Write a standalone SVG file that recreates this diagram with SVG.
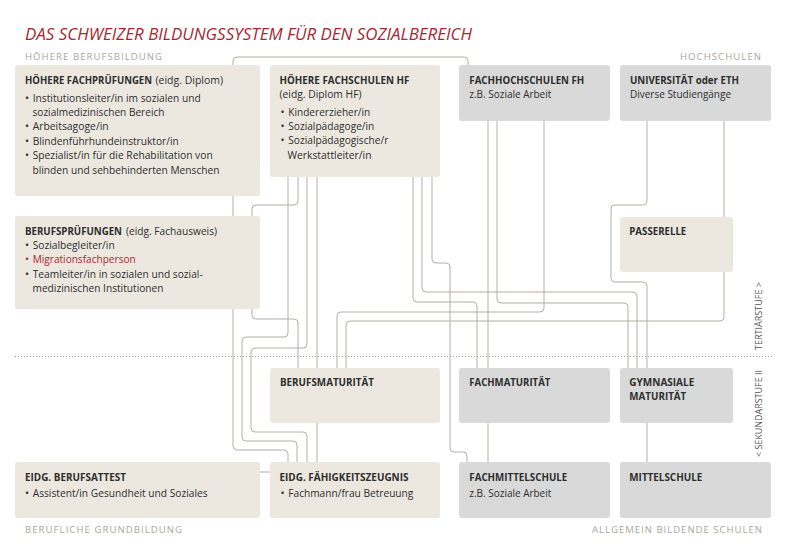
<svg xmlns="http://www.w3.org/2000/svg" width="789" height="560" viewBox="0 0 789 560">
<style>
text{font-family:"Open Sans","Noto Sans","Liberation Sans",sans-serif;fill:#2e2e2e;font-size:10.8px}
.b{font-weight:700}
.red{fill:#a8262f}
.title{font-style:italic;font-size:16.8px;fill:#a8262f}
.lbl{font-size:9.6px;fill:#aaa69d}
.side{font-size:9.4px;fill:#555}
.beige{fill:#ece8e0}
.gray{fill:#d9d9d9}
.conn path{fill:none;stroke:#b3afa6;stroke-width:1}
.dot{stroke:#9a9a9a;stroke-width:1;stroke-dasharray:1 2;fill:none}
</style>
<rect width="789" height="560" fill="#ffffff"/>
<text class="title" x="25" y="40" textLength="447" lengthAdjust="spacingAndGlyphs">DAS SCHWEIZER BILDUNGSSYSTEM FÜR DEN SOZIALBEREICH</text>
<text class="lbl" x="25" y="60" textLength="137" lengthAdjust="spacing">HÖHERE BERUFSBILDUNG</text>
<text class="lbl" x="761" y="59.5" text-anchor="end" textLength="81" lengthAdjust="spacing">HOCHSCHULEN</text>
<text class="lbl" x="25" y="532.5" textLength="157" lengthAdjust="spacing">BERUFLICHE GRUNDBILDUNG</text>
<text class="lbl" x="762" y="532.5" text-anchor="end" textLength="170" lengthAdjust="spacing">ALLGEMEIN BILDENDE SCHULEN</text>
<line class="dot" x1="15" y1="356.5" x2="772" y2="356.5"/>
<text class="side" transform="translate(762,316) rotate(-90)" text-anchor="middle" textLength="68" lengthAdjust="spacingAndGlyphs">TERTIÄRSTUFE &gt;</text>
<text class="side" transform="translate(762,413.5) rotate(-90)" text-anchor="middle" textLength="87" lengthAdjust="spacingAndGlyphs">&lt; SEKUNDARSTUFE II</text>

<g id="connectors" class="conn">
<path d="M468,65 V61 Q468,57 464,57 H237 Q233,57 233,61 V446 Q233,450 237,450 H284 Q288,450 288,454 V462"/>
<path d="M288,177 V333 Q288,337 284,337 H246 Q242,337 242,341 V437 Q242,441 246,441 H293 Q297,441 297,445 V462"/>
<path d="M307,177 V344 Q307,348 303,348 H255 Q251,348 251,352 V428 Q251,432 255,432 H303 Q307,432 307,436 V462"/>
<path d="M317,177 V462"/>
<path d="M298,177 V201 Q298,205 294,205 H256 Q252,205 252,209 V216"/>
<path d="M252,309 V315 Q252,319 256,319 H294 Q298,319 298,323 V368"/>
<path d="M544,121 V308 Q544,312 540,312 H341 Q337,312 337,316 V368"/>
<path d="M724,121 V317 Q724,321 720,321 H350 Q346,321 346,325 V368"/>
<path d="M432,177 V259 Q432,263 436,263 H446 Q450,263 450,267 V448 Q450,452 454,452 H463 Q467,452 467,456 V462"/>
<path d="M422,177 V288 Q422,292 426,292 H633 Q637,292 637,296 V368"/>
<path d="M413,177 V298 Q413,302 417,302 H473 Q477,302 477,306 V368"/>
<path d="M497,121 V299 Q497,303 501,303 H624 Q628,303 628,307 V368"/>
<path d="M488,121 V462"/>
<path d="M647,121 V201 Q647,205 643,205 H615 Q611,205 611,209 V278 Q611,282 615,282 H643 Q647,282 647,286 V462"/>
<path d="M260,472 H270"/>
</g>

<g id="hoehere-fachpruefungen">
<rect class="beige" x="15" y="65" width="245" height="131" rx="3"/>
<text class="b" x="25" y="84" style="font-size:9.9px" textLength="127" lengthAdjust="spacingAndGlyphs">HÖHERE FACHPRÜFUNGEN</text>
<text x="155.5" y="84" textLength="67.5" lengthAdjust="spacingAndGlyphs">(eidg. Diplom)</text>
<text x="25" y="101.5">•</text><text x="32.7" y="101.5" textLength="168" lengthAdjust="spacingAndGlyphs">Institutionsleiter/in im sozialen und</text>
<text x="32.5" y="116" textLength="132" lengthAdjust="spacingAndGlyphs">sozialmedizinischen Bereich</text>
<text x="25" y="130.3">•</text><text x="32.7" y="130.3" textLength="76" lengthAdjust="spacingAndGlyphs">Arbeitsagoge/in</text>
<text x="25" y="144.7">•</text><text x="32.7" y="144.7" textLength="146" lengthAdjust="spacingAndGlyphs">Blindenführhundeinstruktor/in</text>
<text x="25" y="159.1">•</text><text x="32.7" y="159.1" textLength="180" lengthAdjust="spacingAndGlyphs">Spezialist/in für die Rehabilitation von</text>
<text x="32.5" y="173.5" textLength="187" lengthAdjust="spacingAndGlyphs">blinden und sehbehinderten Menschen</text>
</g>

<g id="hoehere-fachschulen">
<rect class="beige" x="270" y="65" width="170" height="112" rx="3"/>
<text class="b" x="279.5" y="84" textLength="130" lengthAdjust="spacingAndGlyphs">HÖHERE FACHSCHULEN HF</text>
<text x="279.5" y="98.4" textLength="82" lengthAdjust="spacingAndGlyphs">(eidg. Diplom HF)</text>
<text x="280.5" y="115.6">•</text><text x="288.3" y="115.6" textLength="82" lengthAdjust="spacingAndGlyphs">Kindererzieher/in</text>
<text x="280.5" y="130">•</text><text x="288.3" y="130" textLength="86" lengthAdjust="spacingAndGlyphs">Sozialpädagoge/in</text>
<text x="280.5" y="144.4">•</text><text x="288.3" y="144.4" textLength="100" lengthAdjust="spacingAndGlyphs">Sozialpädagogische/r</text>
<text x="287.5" y="158.8" textLength="84" lengthAdjust="spacingAndGlyphs">Werkstattleiter/in</text>
</g>

<g id="fachhochschulen">
<rect class="gray" x="459" y="65" width="151" height="56" rx="3"/>
<text class="b" x="469.3" y="84" textLength="115" lengthAdjust="spacingAndGlyphs">FACHHOCHSCHULEN FH</text>
<text x="469.3" y="98.4" textLength="82" lengthAdjust="spacingAndGlyphs">z.B. Soziale Arbeit</text>
</g>

<g id="universitaet">
<rect class="gray" x="620" y="65" width="151" height="56" rx="3"/>
<text class="b" x="630" y="84" textLength="109" lengthAdjust="spacingAndGlyphs">UNIVERSITÄT oder ETH</text>
<text x="630" y="98.4" textLength="101" lengthAdjust="spacingAndGlyphs">Diverse Studiengänge</text>
</g>

<g id="berufspruefungen">
<rect class="beige" x="15" y="216" width="245" height="93" rx="3"/>
<text class="b" x="25" y="235" textLength="97" lengthAdjust="spacingAndGlyphs">BERUFSPRÜFUNGEN</text>
<text x="126" y="235" textLength="91" lengthAdjust="spacingAndGlyphs">(eidg. Fachausweis)</text>
<text x="25" y="248.5">•</text><text x="32.7" y="248.5" textLength="82" lengthAdjust="spacingAndGlyphs">Sozialbegleiter/in</text>
<text class="red" x="25" y="263">•</text><text class="red" x="32.7" y="263" textLength="103" lengthAdjust="spacingAndGlyphs">Migrationsfachperson</text>
<text x="25" y="277.5">•</text><text x="32.7" y="277.5" textLength="170" lengthAdjust="spacingAndGlyphs">Teamleiter/in in sozialen und sozial-</text>
<text x="32.5" y="292" textLength="131" lengthAdjust="spacingAndGlyphs">medizinischen Institutionen</text>
</g>

<g id="passerelle">
<rect class="beige" x="620" y="217" width="113" height="55" rx="3"/>
<text class="b" x="629.3" y="235" textLength="57" lengthAdjust="spacingAndGlyphs">PASSERELLE</text>
</g>

<g id="berufsmaturitaet">
<rect class="beige" x="270" y="368" width="170" height="55" rx="3"/>
<text class="b" x="280" y="385.5" textLength="94" lengthAdjust="spacingAndGlyphs">BERUFSMATURITÄT</text>
</g>

<g id="fachmaturitaet">
<rect class="gray" x="459" y="368" width="151" height="55" rx="3"/>
<text class="b" x="469.3" y="385.5" textLength="81" lengthAdjust="spacingAndGlyphs">FACHMATURITÄT</text>
</g>

<g id="gymnasiale-maturitaet">
<rect class="gray" x="620" y="368" width="113" height="55" rx="3"/>
<text class="b" x="629.3" y="385.5" textLength="65" lengthAdjust="spacingAndGlyphs">GYMNASIALE</text>
<text class="b" x="629.3" y="400" textLength="57" lengthAdjust="spacingAndGlyphs">MATURITÄT</text>
</g>

<g id="berufsattest">
<rect class="beige" x="15" y="462" width="245" height="56" rx="3"/>
<text class="b" x="25" y="480.5" textLength="101" lengthAdjust="spacingAndGlyphs">EIDG. BERUFSATTEST</text>
<text x="25" y="496.5">•</text><text x="32.7" y="496.5" textLength="175" lengthAdjust="spacingAndGlyphs">Assistent/in Gesundheit und Soziales</text>
</g>

<g id="faehigkeitszeugnis">
<rect class="beige" x="270" y="462" width="170" height="56" rx="3"/>
<text class="b" x="279.5" y="480.5" textLength="129" lengthAdjust="spacingAndGlyphs">EIDG. FÄHIGKEITSZEUGNIS</text>
<text x="280.5" y="496.5">•</text><text x="288.3" y="496.5" textLength="125" lengthAdjust="spacingAndGlyphs">Fachmann/frau Betreuung</text>
</g>

<g id="fachmittelschule">
<rect class="gray" x="459" y="462" width="151" height="56" rx="3"/>
<text class="b" x="469.3" y="480.5" textLength="98" lengthAdjust="spacingAndGlyphs">FACHMITTELSCHULE</text>
<text x="469.3" y="497" textLength="82" lengthAdjust="spacingAndGlyphs">z.B. Soziale Arbeit</text>
</g>

<g id="mittelschule">
<rect class="gray" x="620" y="462" width="151" height="56" rx="3"/>
<text class="b" x="629.3" y="480.5" textLength="73" lengthAdjust="spacingAndGlyphs">MITTELSCHULE</text>
</g>
</svg>
